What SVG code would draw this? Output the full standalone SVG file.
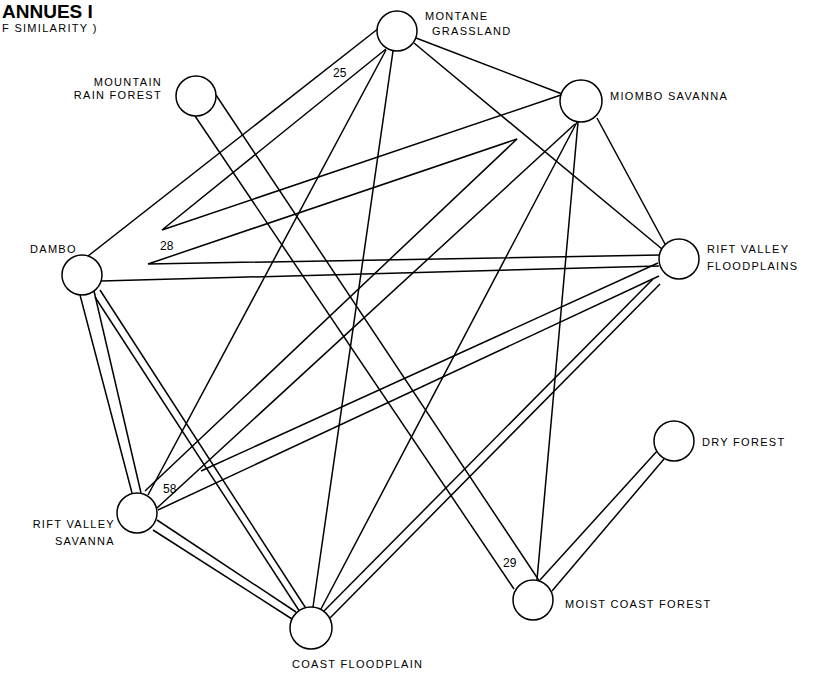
<svg xmlns="http://www.w3.org/2000/svg" width="826" height="676" viewBox="0 0 826 676">
<style>
.c{fill:#fff;stroke:#000;stroke-width:1.5}
.e{fill:none;stroke:#000;stroke-width:1.5;stroke-linejoin:miter}
.t{font-family:"Liberation Sans",Arial,sans-serif;font-size:11px;letter-spacing:1.3px;fill:#000}
.n{font-family:"Liberation Sans",Arial,sans-serif;font-size:12px;fill:#000}
.h{font-family:"Liberation Sans",Arial,sans-serif;font-weight:bold;font-size:19px;fill:#000}
</style>
<rect width="826" height="676" fill="#fff"/>
<text class="h" x="2" y="18">ANNUES I</text>
<text class="t" x="2" y="32">F SIMILARITY )</text>
<g id="connectors">
<path class="e" d="M416,38 L562,94"/>
<path class="e" d="M414,43 L662,249"/>
<path class="e" d="M379,28 L88,256"/>
<path class="e" d="M386,49 L162,230 L561,95"/>
<path class="e" d="M517,139 L148,264 L660,255"/>
<path class="e" d="M517,139 L145,491"/>
<path class="e" d="M575,124 L157,508"/>
<path class="e" d="M101,281 L659,266"/>
<path class="e" d="M386,50 L148,495"/>
<path class="e" d="M393,51 L313,607"/>
<path class="e" d="M577,122 L321,609"/>
<path class="e" d="M578,122 L537,580"/>
<path class="e" d="M597,118 L665,244"/>
<path class="e" d="M195,116 L514,589"/>
<path class="e" d="M216,95 L540,582"/>
<path class="e" d="M540,580 L658,450"/>
<path class="e" d="M552,591 L664,459"/>
<path class="e" d="M80,295 L132,493"/>
<path class="e" d="M94,291 L141,493"/>
<path class="e" d="M100,290 L307,610"/>
<path class="e" d="M95,297 L300,612"/>
<path class="e" d="M157,520 L296,612"/>
<path class="e" d="M153,530 L292,619"/>
<path class="e" d="M323,612 L653,279"/>
<path class="e" d="M330,618 L660,284"/>
<path class="e" d="M201,471 L658,263"/>
<path class="e" d="M158,510 L659,276"/>
<text class="n" x="333" y="77">25</text>
<text class="n" x="160" y="250">28</text>
<text class="n" x="163" y="493">58</text>
<text class="n" x="503" y="567">29</text>
</g>
<g id="montane-grassland"><circle class="c" cx="397" cy="31" r="20"/><text class="t" x="425" y="20">MONTANE</text><text class="t" x="432" y="35">GRASSLAND</text></g>
<g id="mountain-rain-forest"><circle class="c" cx="196" cy="96" r="20"/><text class="t" x="162" y="86" text-anchor="end">MOUNTAIN</text><text class="t" x="162" y="99" text-anchor="end">RAIN FOREST</text></g>
<g id="miombo-savanna"><circle class="c" cx="581" cy="101" r="21"/><text class="t" x="610" y="100">MIOMBO SAVANNA</text></g>
<g id="dambo"><circle class="c" cx="82" cy="275" r="20"/><text class="t" x="30" y="253">DAMBO</text></g>
<g id="rift-valley-floodplains"><circle class="c" cx="679" cy="259" r="20"/><text class="t" x="707" y="253">RIFT VALLEY</text><text class="t" x="707" y="270">FLOODPLAINS</text></g>
<g id="rift-valley-savanna"><circle class="c" cx="137" cy="513" r="20"/><text class="t" x="115" y="528" text-anchor="end">RIFT VALLEY</text><text class="t" x="115" y="545" text-anchor="end">SAVANNA</text></g>
<g id="coast-floodplain"><circle class="c" cx="311" cy="628" r="21"/><text class="t" x="292" y="668">COAST FLOODPLAIN</text></g>
<g id="moist-coast-forest"><circle class="c" cx="533" cy="600" r="20"/><text class="t" x="565" y="608">MOIST COAST FOREST</text></g>
<g id="dry-forest"><circle class="c" cx="674" cy="441" r="20"/><text class="t" x="702" y="446">DRY FOREST</text></g>
</svg>
